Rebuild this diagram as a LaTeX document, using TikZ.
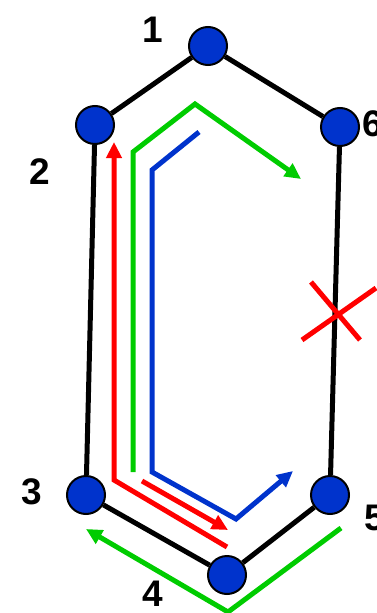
\documentclass[tikz,border=0pt]{standalone}
\usepackage{fontspec}
\setmainfont{Liberation Sans}
\usetikzlibrary{arrows.meta,calc}
\definecolor{pathr}{RGB}{255,0,0}
\definecolor{pathg}{RGB}{0,204,0}
\definecolor{pathb}{RGB}{0,51,204}
\definecolor{atom}{RGB}{0,51,204}
\begin{document}
\begin{tikzpicture}[x=1pt,y=-1pt,line join=miter]
\tikzset{atom/.style={circle,draw=black,line width=2pt,fill=atom,minimum size=38pt,inner sep=0pt},
  num/.style={font=\fontsize{37}{37}\selectfont\bfseries},
  bond/.style={line width=5pt,black},
  hop/.style={line width=5pt,-{Triangle[length=16pt,width=15pt]}}}
\useasboundingbox (0,0) rectangle (376,613);

% ring
\node[atom](n1)at(208,46){};  \node[atom](n2)at(95,125){};
\node[atom](n3)at(86,495){};  \node[atom](n4)at(227,575){};
\node[atom](n5)at(330,495){}; \node[atom](n6)at(340,127){};
\draw[bond](n1)--(n2)--(n3)--(n4)--(n5)--(n6)--(n1);
\node[num]at(153,30){1}; \node[num]at(40,172){2};
\node[num]at(32,492){3}; \node[num]at(153,594){4};
\node[num]at(375,518){5}; \node[num]at(373,124){6};

% red
\coordinate(r1)at(227,547); \coordinate(r2)at(114,480); \coordinate(r3)at(114,142);
\draw[hop,pathr](r1)--(r2)--(r3);
\coordinate(r4)at(142,481); \coordinate(r5)at(228,530);
\draw[hop,pathr](r4)--(r5);

% green
\coordinate(g1)at(133,472); \coordinate(g2)at(133,152); \coordinate(g3)at(195,104);
\coordinate(g4)at(301,179);
\draw[hop,pathg](g1)--(g2)--(g3)--(g4);
\coordinate(g5)at(341,528); \coordinate(g6)at(228,612); \coordinate(g7)at(86,529);
\draw[hop,pathg](g5)--(g6)--(g7);

% blue
\coordinate(b1)at(199,132); \coordinate(b2)at(152,170); \coordinate(b3)at(152,472);
\coordinate(b4)at(236,519); \coordinate(b5)at(293,471);
\draw[hop,pathb](b1)--(b2)--(b3)--(b4)--(b5);

% cut bond
\coordinate(x)at(339,315);
\draw[line width=5pt,pathr]($(x)+(-28,-33)$)--($(x)+(21,25)$);
\draw[line width=5pt,pathr]($(x)+(-37,25)$)--($(x)+(37,-27)$);
\end{tikzpicture}
\end{document}
